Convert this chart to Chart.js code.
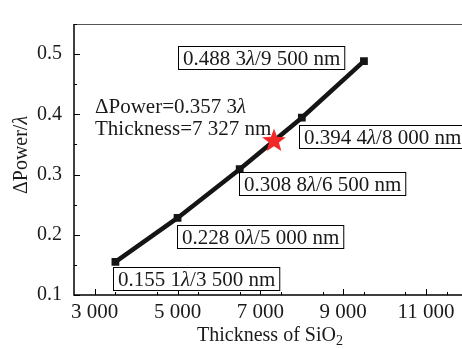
<!DOCTYPE html>
<html>
<head>
<meta charset="utf-8">
<script src="https://cdn.jsdelivr.net/npm/chart.js@4.4.1/dist/chart.umd.min.js"></script>
<style>
  html, body { margin: 0; padding: 0; background: #fff; overflow: hidden; }
  #wrap { width: 470px; height: 349px; }
</style>
</head>
<body>
<div id="wrap"><canvas id="myChart" width="470" height="349"></canvas></div>
<script>
// data
const thickness = [3500, 5000, 6500, 8000, 9500];
const dPower = [0.1551, 0.228, 0.3088, 0.3944, 0.4883];
const optThickness = [7327];
const optPower = [0.3573];
const xTickLabels = [3000, 5000, 7000, 9000, 11000];
const yTickLabels = [0.1, 0.2, 0.3, 0.4, 0.5];

// where each value box sits relative to its point (px)
const boxOffsets = [[-2, 5], [-1, 7], [-1, 3], [-3, 7], [-186, -15]];

const serif = '"Liberation Serif", "Times New Roman", serif';

function groupThousands(v) {
  return String(v).replace(/\B(?=(\d{3})+(?!\d))/g, " ");
}
function fmtFrac(v) {
  const s = v.toFixed(4);
  return s.slice(0, 5) + " " + s.slice(5);
}

// filled red star for the optimum point
const starImg = document.createElement("canvas");
starImg.width = 26;
starImg.height = 26;
(function () {
  const c = starImg.getContext("2d");
  c.beginPath();
  for (let i = 0; i < 10; i++) {
    const r = i % 2 === 0 ? 12.5 : 5.2;
    const a = -Math.PI / 2 + (i * Math.PI) / 5;
    c.lineTo(13 + r * Math.cos(a), 14 + r * Math.sin(a));
  }
  c.closePath();
  c.fillStyle = "#f02828";
  c.fill();
})();

function drawRich(ctx, segs, x, y, size) {
  let cx = x;
  segs.forEach((s) => {
    ctx.font = (s.italic ? "italic " : "") + (s.size || size) + "px " + serif;
    ctx.fillText(s.t, cx, y + (s.dy || 0));
    cx += ctx.measureText(s.t).width;
  });
  return cx - x;
}
function richWidth(ctx, segs, size) {
  let w = 0;
  segs.forEach((s) => {
    ctx.font = (s.italic ? "italic " : "") + (s.size || size) + "px " + serif;
    w += ctx.measureText(s.t).width;
  });
  return w;
}

const decorations = {
  id: "decorations",
  afterDatasetsDraw(chart) {
    const ctx = chart.ctx;
    const xs = chart.scales.x;
    const ys = chart.scales.y;
    const a = chart.chartArea;
    ctx.save();

    // frame
    ctx.strokeStyle = "#555";
    ctx.lineWidth = 1;
    ctx.beginPath();
    ctx.moveTo(a.left, a.top + 0.5);
    ctx.lineTo(a.right, a.top + 0.5);
    ctx.stroke();
    ctx.strokeStyle = "#000";
    ctx.lineWidth = 1.5;
    ctx.beginPath();
    ctx.moveTo(a.left, a.top);
    ctx.lineTo(a.left, a.bottom);
    ctx.lineTo(a.right, a.bottom);
    ctx.stroke();

    // inward ticks
    ctx.lineWidth = 1;
    for (let v = 3000; v < 12000; v += 500) {
      const k = (v - 3000) % 2000;
      let len = 0;
      if (k === 0) len = 6;
      else if (k === 500 || k === 1500) len = 3;
      if (!len) continue;
      const px = Math.round(xs.getPixelForValue(v)) + 0.5;
      ctx.beginPath();
      ctx.moveTo(px, a.bottom);
      ctx.lineTo(px, a.bottom - len);
      ctx.stroke();
    }
    for (let i = 2; i <= 11; i++) {
      const v = i * 0.05;
      const len = i % 2 === 0 ? 6 : 3;
      const py = Math.round(ys.getPixelForValue(v)) + 0.5;
      ctx.beginPath();
      ctx.moveTo(a.left, py);
      ctx.lineTo(a.left + len, py);
      ctx.stroke();
    }

    // value boxes
    ctx.fillStyle = "#000";
    ctx.textBaseline = "alphabetic";
    thickness.forEach((t, i) => {
      const segs = [
        { t: fmtFrac(dPower[i]) },
        { t: "λ", italic: true },
        { t: "/" + groupThousands(t) + " nm" },
      ];
      const px = xs.getPixelForValue(t);
      const py = ys.getPixelForValue(dPower[i]);
      const bx = Math.round(px + boxOffsets[i][0]) + 0.5;
      const by = Math.round(py + boxOffsets[i][1]) + 0.5;
      const w = richWidth(ctx, segs, 21) + 9;
      ctx.fillStyle = "#fff";
      ctx.fillRect(bx, by, w, 23);
      ctx.strokeStyle = "#000";
      ctx.lineWidth = 1;
      ctx.strokeRect(bx, by, w, 23);
      ctx.fillStyle = "#1a1a1a";
      drawRich(ctx, segs, bx + 4.5, by + 18.5, 21);
    });

    // optimum annotation
    ctx.fillStyle = "#1a1a1a";
    drawRich(ctx, [
      { t: "ΔPower=" + fmtFrac(optPower[0]) },
      { t: "λ", italic: true },
    ], a.left + 21, a.top + 89, 21);
    drawRich(ctx, [
      { t: "Thickness=" + groupThousands(optThickness[0]) + " nm" },
    ], a.left + 21, a.top + 111, 21);

    // axis titles
    const xt = [
      { t: "Thickness of SiO" },
      { t: "2", size: 14, dy: 4 },
    ];
    const xw = richWidth(ctx, xt, 20);
    drawRich(ctx, xt, 270 - xw / 2, 341, 20);

    const yt = [{ t: "ΔPower/" }, { t: "λ", italic: true }];
    const yw = richWidth(ctx, yt, 20);
    ctx.translate(27, 155);
    ctx.rotate(-Math.PI / 2);
    drawRich(ctx, yt, -yw / 2, 0, 20);
    ctx.restore();
  },
};

const ctx = document.getElementById("myChart").getContext("2d");
const myChart = new Chart(ctx, {
  type: "line",
  data: {
    datasets: [
      {
        label: "ΔPower",
        data: thickness.map((t, i) => ({ x: t, y: dPower[i] })),
        borderColor: "#151515",
        backgroundColor: "#151515",
        borderWidth: 4.5,
        pointStyle: "rect",
        pointRadius: 5.5,
        pointBorderWidth: 0,
        tension: 0,
        order: 2,
      },
      {
        label: "optimum",
        data: optThickness.map((t, i) => ({ x: t, y: optPower[i] })),
        showLine: false,
        pointStyle: starImg,
        order: 1,
      },
    ],
  },
  options: {
    responsive: false,
    animation: false,
    layout: { autoPadding: false, padding: { top: 9, right: 2.5, left: 0, bottom: 0 } },
    plugins: {
      legend: { display: false },
      tooltip: { enabled: false },
    },
    scales: {
      x: {
        type: "linear",
        min: 2500,
        max: 12000,
        afterFit: (s) => { s.height = 54; },
        afterBuildTicks: (s) => {
          s.ticks = xTickLabels.map((v) => ({ value: v }));
        },
        grid: { display: false, drawTicks: false },
        border: { display: false },
        ticks: {
          autoSkip: false,
          maxRotation: 0,
          padding: 5,
          color: "#1a1a1a",
          font: { family: serif, size: 21 },
          callback: (v) => groupThousands(v),
        },
      },
      y: {
        min: 0.1,
        max: 0.55,
        afterFit: (s) => { s.width = 74; },
        afterBuildTicks: (s) => {
          s.ticks = yTickLabels.map((v) => ({ value: v }));
        },
        grid: { display: false, drawTicks: false },
        border: { display: false },
        ticks: {
          padding: 12,
          color: "#1a1a1a",
          font: { family: serif, size: 20 },
          callback: (v) => v.toFixed(1),
        },
      },
    },
  },
  plugins: [decorations],
});
</script>
</body>
</html>
